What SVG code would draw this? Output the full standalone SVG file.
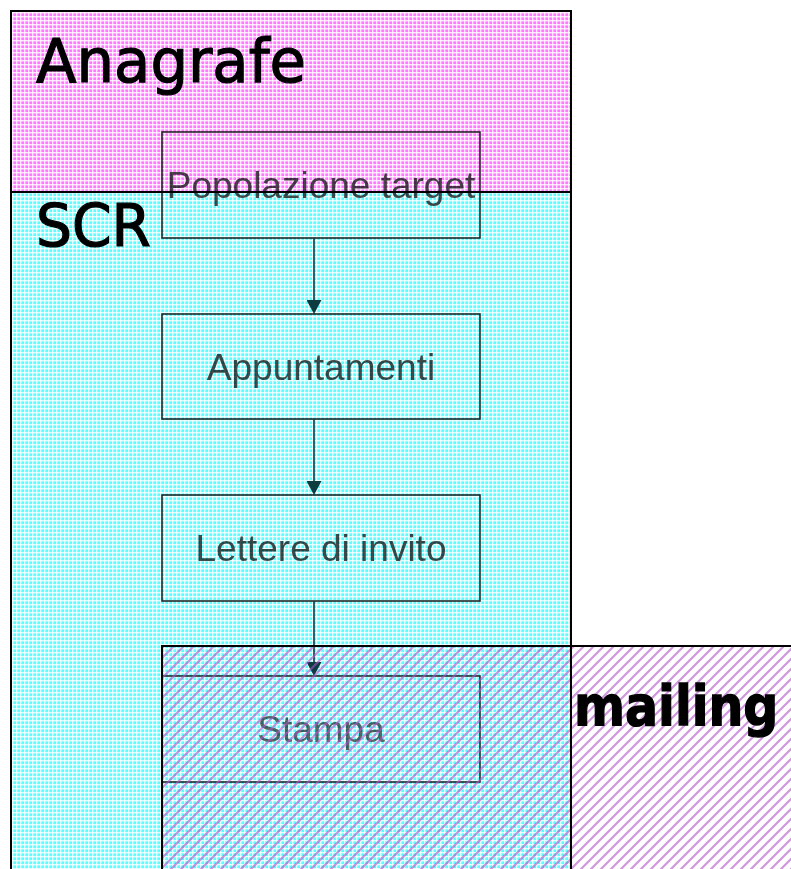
<svg xmlns="http://www.w3.org/2000/svg" width="791" height="869" viewBox="0 0 791 869">
<defs>
<pattern id="pinkGrid" patternUnits="userSpaceOnUse" width="4" height="4">
<rect width="4" height="4" fill="#ff78ff"/>
<rect width="4" height="1.4" fill="#ffffff" opacity="0.8"/>
<rect width="1.4" height="4" fill="#ffffff" opacity="0.8"/>
</pattern>
<pattern id="cyanGrid" patternUnits="userSpaceOnUse" width="4" height="4">
<rect width="4" height="4" fill="#5cfcff"/>
<rect width="4" height="1.4" fill="#ffffff" opacity="0.8"/>
<rect width="1.4" height="4" fill="#ffffff" opacity="0.8"/>
</pattern>
<pattern id="hatch" patternUnits="userSpaceOnUse" width="10" height="10">
<path d="M-2,2 L2,-2 M0,10 L10,0 M8,12 L12,8" stroke="#b050c8" stroke-width="2.2" opacity="0.6"/>
</pattern>
<marker id="arrow" markerWidth="12" markerHeight="15" refX="14" refY="7.5" orient="auto" markerUnits="userSpaceOnUse">
<path d="M0,0 L14,7.5 L0,15 Z" fill="#0d3c40"/>
</marker>
<style>
.region{stroke:#000;stroke-width:2}
.title{font-family:"DejaVu Sans",sans-serif;fill:#000;stroke:#000;stroke-width:1.2}
.box{fill:none;stroke:#2a2a2a;stroke-width:1.6;mix-blend-mode:multiply}
.label{font-family:"Liberation Sans",Arial,sans-serif;font-size:37px;fill:#4a4a4a;text-anchor:middle;mix-blend-mode:multiply}
.conn{stroke:#0d3c40;stroke-width:1.6;fill:none}
</style>
</defs>
<rect width="791" height="869" fill="#fff"/>
<g id="region-anagrafe">
<rect x="11" y="11" width="560" height="181" fill="url(#pinkGrid)"/>
</g>
<g id="region-scr">
<rect x="11" y="192" width="560" height="690" fill="url(#cyanGrid)"/>
</g>
<g id="node-popolazione">
<rect class="box" x="162" y="132" width="318" height="106"/>
<text class="label" x="321" y="198">Popolazione target</text>
</g>
<g id="node-appuntamenti">
<rect class="box" x="162" y="314" width="318" height="105"/>
<text class="label" x="321" y="380">Appuntamenti</text>
</g>
<g id="node-lettere">
<rect class="box" x="162" y="495" width="318" height="106"/>
<text class="label" x="321" y="561">Lettere di invito</text>
</g>
<g id="node-stampa">
<rect class="box" x="162" y="676" width="318" height="106"/>
<text class="label" x="321" y="742" fill-opacity="0.85">Stampa</text>
</g>
<g id="connectors">
<line class="conn" x1="314" y1="238" x2="314" y2="314" marker-end="url(#arrow)"/>
<line class="conn" x1="314" y1="419" x2="314" y2="495" marker-end="url(#arrow)"/>
<line class="conn" x1="314" y1="601" x2="314" y2="676" marker-end="url(#arrow)"/>
</g>
<g id="region-mailing">
<rect x="162" y="646" width="640" height="240" fill="url(#hatch)"/>
<path d="M162,880 L162,646 L791,646" class="region" fill="none"/>
<text class="title" transform="translate(574,725) scale(1,1.12)" x="0" y="0" font-size="49" font-weight="bold">mailing</text>
</g>
<g id="region-borders">
<rect class="region" x="11" y="11" width="560" height="181" fill="none"/>
<path class="region" d="M11,192 L11,880 M571,192 L571,880" fill="none"/>
<text class="title" x="36" y="82" font-size="60" textLength="270" lengthAdjust="spacingAndGlyphs">Anagrafe</text>
<text class="title" x="36" y="246" font-size="58" textLength="115" lengthAdjust="spacingAndGlyphs">SCR</text>
</g>
</svg>
